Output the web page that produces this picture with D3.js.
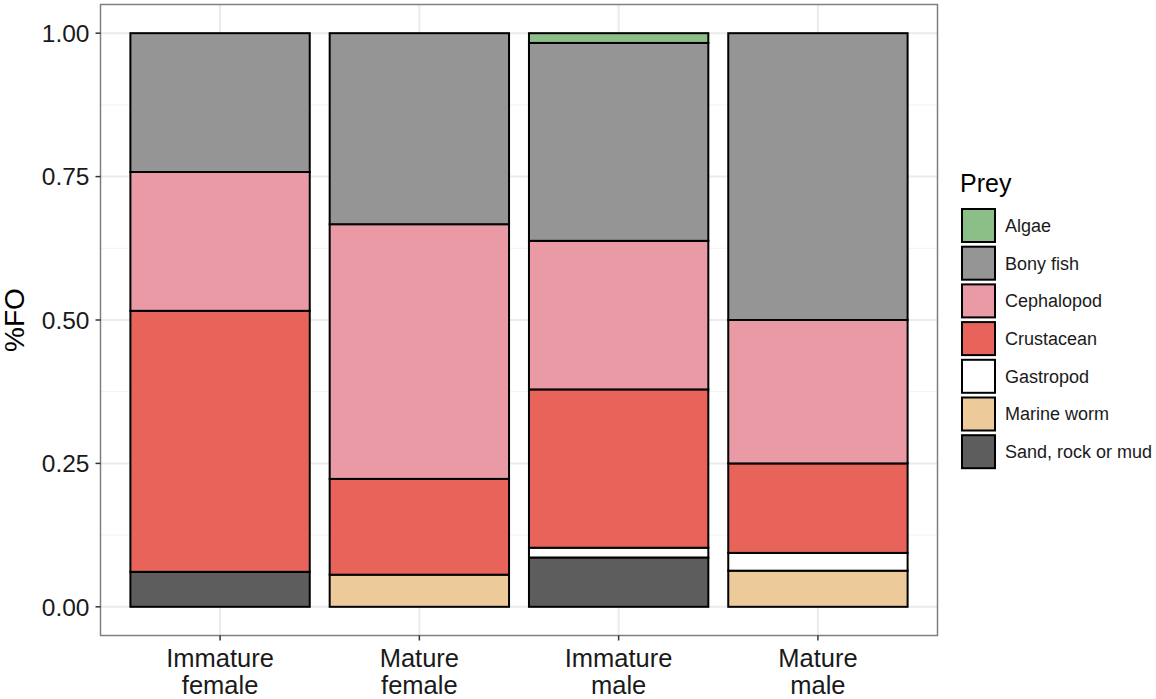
<!DOCTYPE html>
<html>
<head>
<meta charset="utf-8">
<script src="https://cdn.jsdelivr.net/npm/d3@7"></script>
<style>
  html, body { margin: 0; padding: 0; background: #fff; }
  svg { display: block; font-family: "Liberation Sans", Arial, sans-serif; }
</style>
</head>
<body>
<svg id="chart" width="1156" height="699"></svg>
<script>
// ---- data ----
const categories = ["Immature female", "Mature female", "Immature male", "Mature male"];
const preyTypes = ["Algae", "Bony fish", "Cephalopod", "Crustacean", "Gastropod", "Marine worm", "Sand, rock or mud"];
const algae      = [0.000, 0.000, 0.017, 0.000];
const bonyFish   = [0.242, 0.333, 0.345, 0.500];
const cephalopod = [0.242, 0.444, 0.259, 0.250];
const crustacean = [0.455, 0.167, 0.276, 0.156];
const gastropod  = [0.000, 0.000, 0.017, 0.031];
const marineWorm = [0.000, 0.056, 0.000, 0.063];
const sandRock   = [0.061, 0.000, 0.086, 0.000];
const yTicks = [0, 0.25, 0.5, 0.75, 1.0];
const preyColors = ["#8cbf88", "#959595", "#e99aa5", "#e8645a", "#ffffff", "#ecca9a", "#5d5d5d"];

const seriesByPrey = {
  "Algae": algae, "Bony fish": bonyFish, "Cephalopod": cephalopod, "Crustacean": crustacean,
  "Gastropod": gastropod, "Marine worm": marineWorm, "Sand, rock or mud": sandRock
};
const rows = categories.map((c, i) => {
  const r = { category: c };
  preyTypes.forEach(p => r[p] = seriesByPrey[p][i]);
  return r;
});

// ---- layout ----
const svg = d3.select("#chart");
const panel = { left: 100.5, top: 4.5, right: 937.5, bottom: 635.5 };
const W = panel.right - panel.left, H = panel.bottom - panel.top;

// ggplot-like discrete scale: expansion 0.6 units each side, bar width 0.9
const x = d3.scalePoint().domain(categories)
  .range([panel.left + 0.6 * W / 4.2, panel.right - 0.6 * W / 4.2]);
const unit = W / 4.2;
const barW = 0.9 * unit;

const y = d3.scaleLinear().domain([-0.05, 1.05]).range([panel.bottom, panel.top]);
const color = d3.scaleOrdinal().domain(preyTypes).range(preyColors);

// grid
const g = svg.append("g");
const minor = [0.125, 0.375, 0.625, 0.875];
g.selectAll(".minor").data(minor).enter().append("line")
  .attr("x1", panel.left).attr("x2", panel.right)
  .attr("y1", d => y(d)).attr("y2", d => y(d))
  .attr("stroke", "#f2f2f2").attr("stroke-width", 1);
g.selectAll(".major").data(yTicks).enter().append("line")
  .attr("x1", panel.left).attr("x2", panel.right)
  .attr("y1", d => y(d)).attr("y2", d => y(d))
  .attr("stroke", "#ebebeb").attr("stroke-width", 2);
g.selectAll(".vmajor").data(categories).enter().append("line")
  .attr("x1", d => x(d)).attr("x2", d => x(d))
  .attr("y1", panel.top).attr("y2", panel.bottom)
  .attr("stroke", "#ebebeb").attr("stroke-width", 2);

// stacked bars (bottom: Sand ... top: Algae)
const stackKeys = preyTypes.slice().reverse();
const stacked = d3.stack().keys(stackKeys)(rows);
const layers = svg.append("g").selectAll("g").data(stacked).enter().append("g");
layers.selectAll("rect").data(d => d.map(v => ({ key: d.key, v })))
  .enter().filter(d => d.v[1] - d.v[0] > 0.0001)
  .append("rect")
  .attr("x", d => x(d.v.data.category) - barW / 2)
  .attr("width", barW)
  .attr("y", d => y(d.v[1]))
  .attr("height", d => y(d.v[0]) - y(d.v[1]))
  .attr("fill", d => color(d.key))
  .attr("stroke", "#000").attr("stroke-width", 2);

// panel border
svg.append("rect").attr("x", panel.left).attr("y", panel.top)
  .attr("width", W).attr("height", H)
  .attr("fill", "none").attr("stroke", "#7f7f7f").attr("stroke-width", 1.5);

// y axis
const yAxis = svg.append("g");
yTicks.forEach(t => {
  yAxis.append("line").attr("x1", panel.left - 5).attr("x2", panel.left)
    .attr("y1", y(t)).attr("y2", y(t)).attr("stroke", "#333").attr("stroke-width", 1.5);
  yAxis.append("text").attr("x", panel.left - 11).attr("y", y(t))
    .attr("dy", "0.36em").attr("text-anchor", "end")
    .attr("font-size", 24.5).attr("fill", "#1a1a1a").text(d3.format(".2f")(t));
});
svg.append("text")
  .attr("transform", `translate(24,${(panel.top + panel.bottom) / 2}) rotate(-90)`)
  .attr("text-anchor", "middle").attr("font-size", 28).attr("fill", "#000").text("%FO");

// x axis
const xAxis = svg.append("g");
categories.forEach(c => {
  xAxis.append("line").attr("x1", x(c)).attr("x2", x(c))
    .attr("y1", panel.bottom).attr("y2", panel.bottom + 5).attr("stroke", "#333").attr("stroke-width", 1.5);
  const parts = c.split(" ");
  const t = xAxis.append("text").attr("text-anchor", "middle")
    .attr("font-size", 25.5).attr("fill", "#1a1a1a");
  parts.forEach((p, k) => t.append("tspan").attr("x", x(c)).attr("y", 667 + k * 27).text(p));
});

// legend
const leg = svg.append("g");
leg.append("text").attr("x", 960).attr("y", 192).attr("font-size", 25).attr("fill", "#000").text("Prey");
preyTypes.forEach((p, i) => {
  const yy = 209 + i * 37.7;
  leg.append("rect").attr("x", 962).attr("y", yy).attr("width", 33).attr("height", 33)
    .attr("fill", color(p)).attr("stroke", "#000").attr("stroke-width", 2);
  leg.append("text").attr("x", 1005).attr("y", yy + 16.5).attr("dy", "0.36em")
    .attr("font-size", 18).attr("fill", "#1a1a1a").text(p);
});
</script>
</body>
</html>
